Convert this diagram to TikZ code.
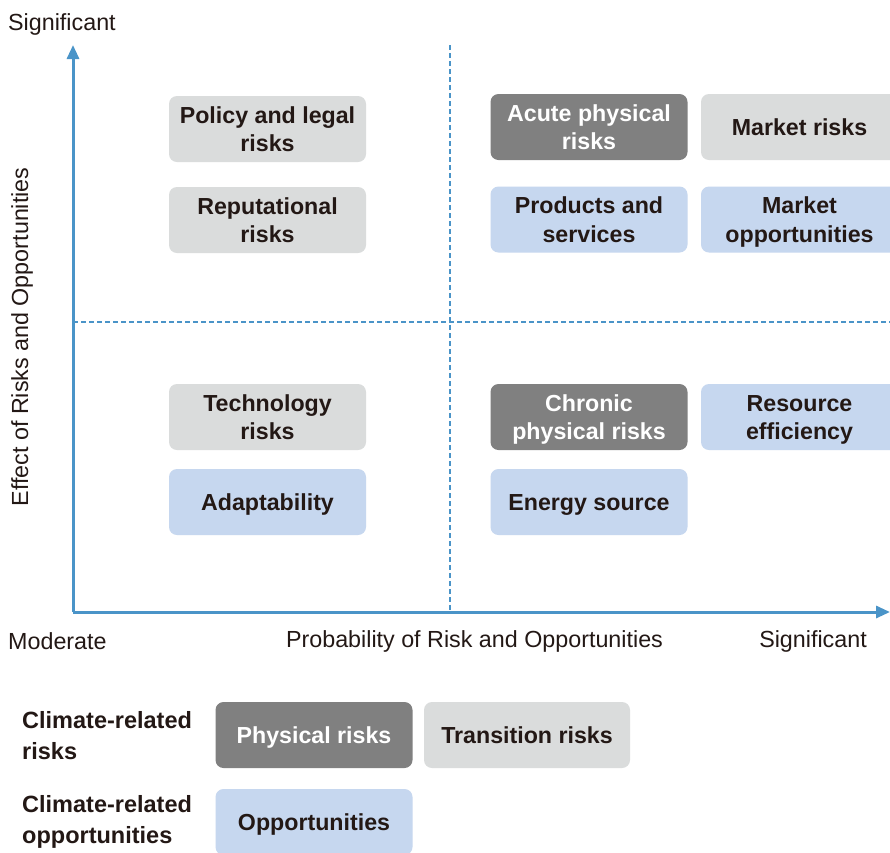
\documentclass[tikz,border=0pt]{standalone}
\usepackage{fontspec}
\setmainfont{Liberation Sans}
\usetikzlibrary{arrows.meta}
\definecolor{axisblue}{HTML}{4A94C8}
\definecolor{darkbox}{HTML}{808080}
\definecolor{lightbox}{HTML}{DADCDC}
\definecolor{bluebox}{HTML}{C6D7EF}
\definecolor{ink}{HTML}{231815}
\begin{document}
\begin{tikzpicture}[x=1pt,y=-1pt,
  box/.style={rounded corners=8pt, minimum width=197pt, minimum height=66pt, align=center, inner sep=0pt,
    font=\bfseries\fontsize{23.2}{28.5}\selectfont},
  oneline/.style={text height=21pt, text depth=4pt},
  twoline/.style={text height=46pt, text depth=0.3pt},
  physbox/.style={box, fill=darkbox, text=white},
  transbox/.style={box, fill=lightbox, text=ink},
  oppbox/.style={box, fill=bluebox, text=ink},
  axislabel/.style={font=\fontsize{23.3}{27}\selectfont, text=ink, inner sep=0pt},
  legendlabel/.style={font=\bfseries\fontsize{23.5}{31}\selectfont, text=ink, inner sep=0pt, align=left},
  axisline/.style={axisblue, line width=3pt, -{Triangle[length=14pt,width=12pt]}},
  divider/.style={axisblue, line width=1.4pt, dash pattern=on 5pt off 3pt}]
\useasboundingbox (0,0) rectangle (890,852);
\fill[white] (0,0) rectangle (890,852);
% coordinates
\coordinate (origin) at (73,612);
\coordinate (ytop) at (73,45);
\coordinate (xright) at (890,612);
\coordinate (vtop) at (450,45);
\coordinate (vbot) at (450,612);
\coordinate (hleft) at (73,322);
\coordinate (hright) at (890,322);
% dividers
\draw[divider] (vtop) -- (vbot);
\draw[divider] (hleft) -- (hright);
% axes
\draw[axisline] (origin) -- (ytop);
\draw[axisline] (origin) -- (xright);
% axis labels
\node[axislabel, anchor=west] (sigtop) at (8,24) {Significant};
\node[axislabel, anchor=west] (moderate) at (8,641) {Moderate};
\node[axislabel] (prob) at (474.5,641) {Probability of Risk and Opportunities};
\node[axislabel] (sigright) at (813,641) {Significant};
\node[axislabel, rotate=90] (effect) at (22,337) {Effect of Risks and Opportunities};
% boxes
\node[transbox, twoline] (policy) at (267.5,129) {Policy and legal\\risks};
\node[transbox, twoline] (reput) at (267.5,220) {Reputational\\risks};
\node[physbox, twoline] (acute) at (589,127) {Acute physical\\risks};
\node[transbox, oneline] (market) at (799.5,127) {Market risks};
\node[oppbox, twoline] (products) at (589,219.5) {Products and\\services};
\node[oppbox, twoline] (marketopp) at (799.5,219.5) {Market\\opportunities};
\node[transbox, twoline] (tech) at (267.5,417) {Technology\\risks};
\node[oppbox, oneline] (adapt) at (267.5,502) {Adaptability};
\node[physbox, twoline] (chronic) at (589,417) {Chronic\\physical risks};
\node[oppbox, twoline] (resource) at (799.5,417) {Resource\\efficiency};
\node[oppbox, oneline] (energy) at (589,502) {Energy source};
% legend
\node[legendlabel, anchor=west] (lrisks) at (22,736) {Climate-related\\risks};
\node[legendlabel, anchor=west] (lopps) at (22,822) {Climate-related\\opportunities};
\node[physbox, oneline] (lphys) at (314,735) {Physical risks};
\node[transbox, oneline, minimum width=206pt] (ltrans) at (527,735) {Transition risks};
\node[oppbox, oneline] (lopp) at (314,822) {Opportunities};
\end{tikzpicture}
\end{document}
